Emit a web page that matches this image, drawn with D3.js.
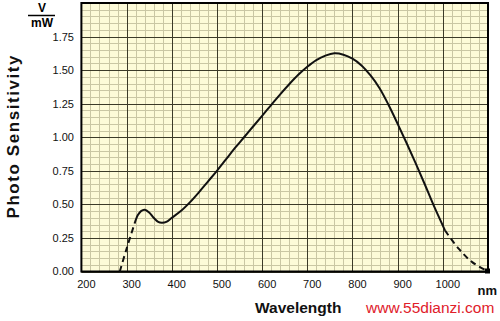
<!DOCTYPE html>
<html><head><meta charset="utf-8">
<script src="https://cdn.jsdelivr.net/npm/d3@7"></script>
<style>html,body{margin:0;padding:0;background:#fff;}svg{display:block;}</style>
</head><body>
<svg id="c" width="500" height="321"></svg>
<script>
// ---- data ----
const xTicks = [200, 300, 400, 500, 600, 700, 800, 900, 1000];
const yTicks = [0, 0.25, 0.5, 0.75, 1.0, 1.25, 1.5, 1.75];
const yTickLabels = ["0.00", "0.25", "0.50", "0.75", "1.00", "1.25", "1.50", "1.75"];
// solid part of the curve (wavelength nm, V/mW)
const solidWl  = [318, 325, 332, 340, 350, 360, 370, 378, 388, 400, 420, 440, 460, 480, 500, 520, 540, 560, 580, 600, 620, 640, 660, 680, 700, 720, 740, 760, 780, 800, 820, 840, 860, 880, 900, 920, 940, 960, 980, 1005];
const solidVal = [0.36, 0.42, 0.45, 0.46, 0.44, 0.40, 0.37, 0.364, 0.37, 0.40, 0.45, 0.515, 0.59, 0.67, 0.75, 0.835, 0.92, 1.0, 1.08, 1.16, 1.24, 1.32, 1.395, 1.465, 1.525, 1.575, 1.608, 1.625, 1.615, 1.585, 1.535, 1.46, 1.365, 1.24, 1.10, 0.955, 0.805, 0.65, 0.49, 0.305];
// dashed extensions
const dashLeftWl  = [285, 300, 318];
const dashLeftVal = [0.0, 0.17, 0.36];
const dashRightWl  = [1005, 1035, 1065, 1100];
const dashRightVal = [0.305, 0.17, 0.07, 0.0];

const svg = d3.select("#c");
const x = d3.scaleLinear().domain([200, 1100]).range([81.4, 488]);
const y = d3.scaleLinear().domain([0, 2]).range([271.5, 3]);

// background
svg.append("rect").attr("x", x(200)).attr("y", y(2)).attr("width", x(1100) - x(200)).attr("height", y(0) - y(2)).attr("fill", "#fdfbd8");

// minor grid
const minorX = d3.range(200, 1100.1, 20);
const minorY = d3.range(0, 2.001, 0.05);
svg.append("g").selectAll("line").data(minorX).join("line")
  .attr("x1", d => Math.round(x(d)) + 0.5).attr("x2", d => Math.round(x(d)) + 0.5)
  .attr("y1", y(2)).attr("y2", y(0)).attr("stroke", "#cac7a4").attr("stroke-width", 1);
svg.append("g").selectAll("line").data(minorY).join("line")
  .attr("y1", d => Math.round(y(d)) + 0.5).attr("y2", d => Math.round(y(d)) + 0.5)
  .attr("x1", x(200)).attr("x2", x(1100)).attr("stroke", "#cac7a4").attr("stroke-width", 1);
// major grid
svg.append("g").selectAll("line").data(d3.range(200, 1100.1, 100)).join("line")
  .attr("x1", d => Math.round(x(d)) + 0.5).attr("x2", d => Math.round(x(d)) + 0.5)
  .attr("y1", y(2)).attr("y2", y(0)).attr("stroke", "#3b3a28").attr("stroke-width", 1);
svg.append("g").selectAll("line").data(d3.range(0, 2.001, 0.25)).join("line")
  .attr("y1", d => Math.round(y(d)) + 0.5).attr("y2", d => Math.round(y(d)) + 0.5)
  .attr("x1", x(200)).attr("x2", x(1100)).attr("stroke", "#3b3a28").attr("stroke-width", 1);

// frame
svg.append("rect").attr("x", x(200)).attr("y", y(2)).attr("width", x(1100) - x(200)).attr("height", y(0) - y(2))
  .attr("fill", "none").attr("stroke", "#000").attr("stroke-width", 2);

// curves
const line = d3.line().x(d => x(d[0])).y(d => y(d[1])).curve(d3.curveCatmullRom.alpha(0.5));
svg.append("path").datum(d3.zip(solidWl, solidVal)).attr("d", line)
  .attr("fill", "none").attr("stroke", "#111").attr("stroke-width", 2).attr("stroke-linejoin", "round");
svg.append("path").datum(d3.zip(dashLeftWl, dashLeftVal)).attr("d", line)
  .attr("fill", "none").attr("stroke", "#111").attr("stroke-width", 2).attr("stroke-dasharray", "6,4");
svg.append("path").datum(d3.zip(dashRightWl, dashRightVal)).attr("d", line)
  .attr("fill", "none").attr("stroke", "#111").attr("stroke-width", 2).attr("stroke-dasharray", "6,4");
svg.append("rect").attr("x", x(1100) - 3).attr("y", y(0) - 3).attr("width", 5).attr("height", 5).attr("fill", "#000");

// tick labels
const font = "Liberation Sans, Arial, sans-serif";
svg.append("g").selectAll("text").data(yTicks).join("text")
  .attr("x", 74).attr("y", d => y(d)).attr("dy", "0.36em").attr("text-anchor", "end")
  .attr("font-family", font).attr("font-size", 11).attr("fill", "#111")
  .text((d, i) => yTickLabels[i]);
svg.append("g").selectAll("text").data(xTicks).join("text")
  .attr("x", d => x(d) + 5).attr("y", 288).attr("text-anchor", "middle")
  .attr("font-family", font).attr("font-size", 11).attr("fill", "#111")
  .text(d => d);

// unit V/mW
svg.append("text").attr("x", 42).attr("y", 12).attr("text-anchor", "middle")
  .attr("font-family", font).attr("font-size", 12).attr("font-weight", "bold").text("V");
svg.append("line").attr("x1", 28).attr("x2", 55).attr("y1", 15.5).attr("y2", 15.5).attr("stroke", "#000").attr("stroke-width", 1.5);
svg.append("text").attr("x", 42).attr("y", 27).attr("text-anchor", "middle")
  .attr("font-family", font).attr("font-size", 12).attr("font-weight", "bold").text("mW");

// axis titles
svg.append("text").attr("transform", "translate(19,137) rotate(-90)").attr("text-anchor", "middle")
  .attr("font-family", font).attr("font-size", 17).attr("font-weight", "bold").attr("fill", "#111")
  .attr("textLength", 163).attr("lengthAdjust", "spacing")
  .text("Photo  Sensitivity");

svg.append("text").attr("x", 255).attr("y", 313)
  .attr("font-family", font).attr("font-size", 15.5).attr("font-weight", "bold").attr("fill", "#111")
  .text("Wavelength");
svg.append("text").attr("x", 497).attr("y", 295).attr("text-anchor", "end")
  .attr("font-family", font).attr("font-size", 13).attr("font-weight", "bold").attr("fill", "#111").text("nm");
svg.append("text").attr("x", 366).attr("y", 313)
  .attr("font-family", font).attr("font-size", 15.5).attr("fill", "#e0202a").text("www.55dianzi.com");
</script>
</body></html>
